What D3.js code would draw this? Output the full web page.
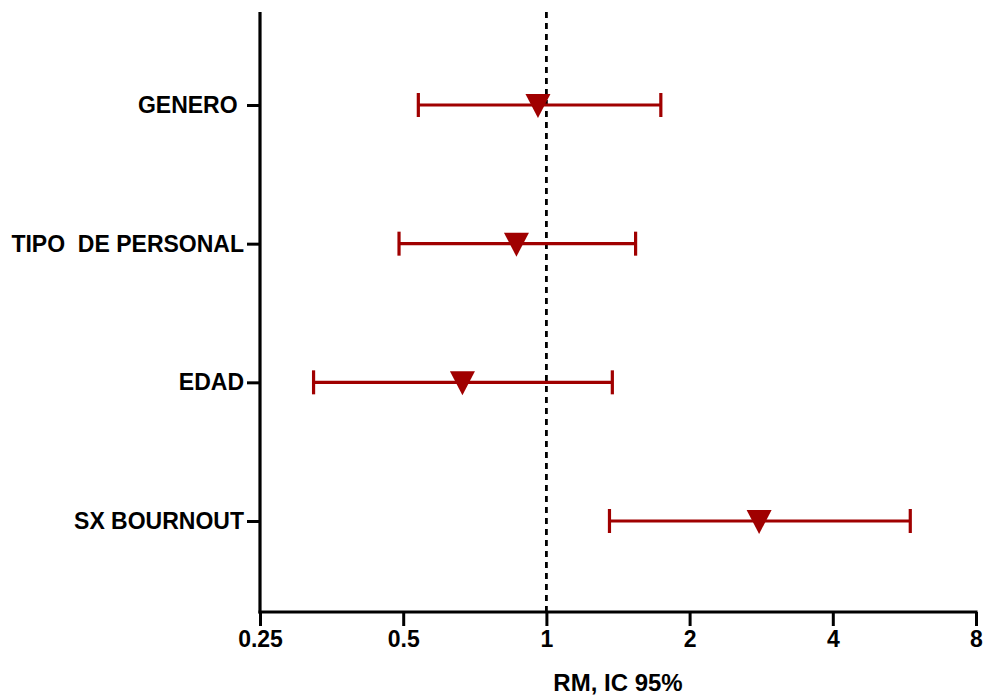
<!DOCTYPE html>
<html><head><meta charset="utf-8">
<script src="https://cdn.jsdelivr.net/npm/d3@7"></script>
<style>body{margin:0;background:#fff;} svg{display:block;} text{font-family:"Liberation Sans",Arial,sans-serif;font-weight:bold;white-space:pre;}</style>
</head><body>
<svg id="c" width="986" height="698"></svg>
<script>
const categories = ["GENERO ", "TIPO  DE PERSONAL", "EDAD", "SX BOURNOUT"];
const estimates = [0.96, 0.865, 0.666, 2.80];
const lower = [0.538, 0.49, 0.324, 1.357];
const upper = [1.74, 1.54, 1.376, 5.82];
const xTicks = [0.25, 0.5, 1, 2, 4, 8];
const xTickLabels = ["0.25", "0.5", "1", "2", "4", "8"];
const xTitle = "RM, IC 95%";

(function(){
const svg = d3.select("#c");
const pL = 260, pR = 976, pT = 12, pB = 612;
const red = "#a00000";
const ff = '"Liberation Sans",Arial,sans-serif';

const x = d3.scaleLog().base(2).domain([0.25, 8]).range([pL, pR]);
const y = d3.scalePoint().domain(categories).range([105, 521]);

// reference line
svg.append("line").attr("x1", x(1)).attr("x2", x(1)).attr("y1", pT).attr("y2", pB)
  .attr("stroke", "#000").attr("stroke-width", 2.8).attr("stroke-dasharray", "6,5");

// x axis
const xa = svg.append("g").attr("transform", `translate(0,${pB})`)
  .call(d3.axisBottom(x).tickValues(xTicks).tickFormat((d,i)=>xTickLabels[i]).tickSizeOuter(0).tickSize(14).tickPadding(5));
xa.select(".domain").attr("stroke-width", 3.2).attr("d", `M${pL-1.5},0H${pR+1.5}`);
xa.selectAll(".tick line").attr("stroke-width", 3);
xa.selectAll(".tick text").attr("font-size", 23).attr("fill", "#000")
  .style("font-family", ff).style("font-weight", "bold");

// y axis
const ya = svg.append("g").attr("transform", `translate(${pL},0)`)
  .call(d3.axisLeft(y).tickSizeOuter(0).tickSize(13).tickPadding(3));
ya.select(".domain").attr("stroke-width", 3.2).attr("d", `M0,${pT}V${pB+1.5}`);
ya.selectAll(".tick line").attr("stroke-width", 3);
ya.selectAll(".tick text").attr("font-size", 23).attr("fill", "#000")
  .style("font-family", ff).style("font-weight", "bold");

// axis title
svg.append("text").attr("x", 618).attr("y", 691).attr("text-anchor", "middle")
  .attr("font-size", 24).attr("fill", "#000").text(xTitle);

// error bars
const rows = categories.map((c,i)=>({c, est: estimates[i], lo: lower[i], hi: upper[i]}));
const g = svg.append("g");
g.selectAll("line.bar").data(rows).join("line").attr("class","bar")
  .attr("x1", d=>x(d.lo)).attr("x2", d=>x(d.hi)).attr("y1", d=>y(d.c)).attr("y2", d=>y(d.c))
  .attr("stroke", red).attr("stroke-width", 3.2);
g.selectAll("line.capl").data(rows).join("line").attr("class","capl")
  .attr("x1", d=>x(d.lo)).attr("x2", d=>x(d.lo)).attr("y1", d=>y(d.c)-12).attr("y2", d=>y(d.c)+12)
  .attr("stroke", red).attr("stroke-width", 3.2);
g.selectAll("line.caph").data(rows).join("line").attr("class","caph")
  .attr("x1", d=>x(d.hi)).attr("x2", d=>x(d.hi)).attr("y1", d=>y(d.c)-12).attr("y2", d=>y(d.c)+12)
  .attr("stroke", red).attr("stroke-width", 3.2);
g.selectAll("path.pt").data(rows).join("path").attr("class","pt")
  .attr("d", d=>{const cx=x(d.est), cy=y(d.c); return `M${cx-12.5},${cy-11}L${cx+12.5},${cy-11}L${cx},${cy+13}Z`;})
  .attr("fill", red);
})();
</script>
</body></html>
